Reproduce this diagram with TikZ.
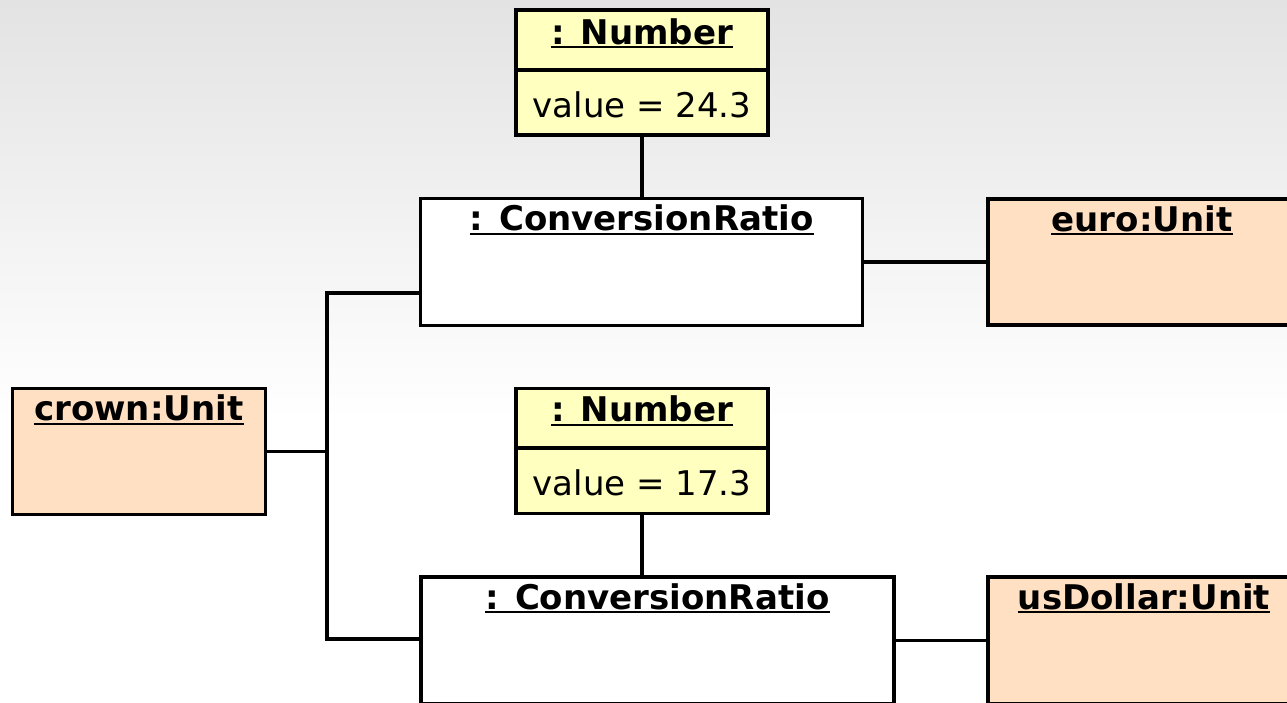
\documentclass[tikz,border=0pt]{standalone}
\usepackage{fontspec}
\setmainfont{DejaVu Sans}
\definecolor{bgtop}{RGB}{227,227,227}
\definecolor{numfill}{RGB}{255,255,192}
\definecolor{unitfill}{RGB}{255,224,194}
\tikzset{
  obj/.style={draw=black, line width=3.3pt, inner sep=0pt, rectangle},
  numbox/.style={obj, fill=numfill, minimum width=252pt, minimum height=125pt},
  crbox/.style={obj, fill=white, minimum height=127pt},
  unitbox/.style={obj, fill=unitfill, minimum height=126pt},
  ttl/.style={inner sep=0pt, anchor=base, font=\fontsize{34}{40}\selectfont\bfseries},
  val/.style={inner sep=0pt, anchor=base, font=\fontsize{34}{40}\selectfont},
  ul/.style={line width=2.2pt},
  conn/.style={line width=3.3pt}
}
\newcommand{\ulttl}[1]{\draw[ul] ([yshift=-3pt]#1.base west) -- ([yshift=-3pt]#1.base east);}
\begin{document}
\begin{tikzpicture}[x=1pt,y=-1pt]
\useasboundingbox (0,0) rectangle (1287,702);
\clip (0,0) rectangle (1287,702);
\shade[top color=bgtop, bottom color=white] (0,0) rectangle (1287,420);
\fill[white] (0,419) rectangle (1287,702);

% nodes
\node[numbox] (num1) at (642,72.5) {};
\node[crbox, minimum width=442pt] (cr1) at (641.7,262) {};
\node[unitbox, minimum width=308pt] (euro) at (1142,262) {};
\node[unitbox, minimum width=253pt] (crown) at (138.7,451.5) {};
\node[numbox] (num2) at (642,451) {};
\node[crbox, minimum width=473pt] (cr2) at (657.5,640.5) {};
\node[unitbox, minimum width=312pt, minimum height=127pt] (usd) at (1144,640.5) {};

% dividers
\coordinate (d1) at (0,70);
\coordinate (d2) at (0,448);
\draw[conn] (num1.west |- d1) -- (num1.east |- d1);
\draw[conn] (num2.west |- d2) -- (num2.east |- d2);

% titles
\node[ttl] (num1t) at ([yshift=-36pt]num1.north) {: Number};
\node[val] (num1v) at ([yshift=-109pt]num1.north) {value = 24.3};
\node[ttl] (cr1t) at ([yshift=-34pt]cr1.north) {: ConversionRatio};
\node[ttl] (eurot) at ([yshift=-34pt]euro.north) {euro:Unit};
\node[ttl] (crownt) at ([yshift=-34pt]crown.north) {crown:Unit};
\node[ttl] (num2t) at ([yshift=-35pt]num2.north) {: Number};
\node[val] (num2v) at ([yshift=-109pt]num2.north) {value = 17.3};
\node[ttl] (cr2t) at ([yshift=-34pt]cr2.north) {: ConversionRatio};
\node[ttl] (usdt) at ([yshift=-34pt]usd.north) {usDollar:Unit};
\ulttl{num1t}
\ulttl{cr1t}
\ulttl{eurot}
\ulttl{crownt}
\ulttl{num2t}
\ulttl{cr2t}
\ulttl{usdt}

% connectors
\coordinate (j1) at (327,293);
\coordinate (j2) at (327,639);
\draw[conn] (num1.south) -- (num1.south |- cr1.north);
\draw[conn] (num2.south) -- (num2.south |- cr2.north);
\draw[conn] (cr1.east) -- (euro.west);
\draw[conn] (cr2.east) -- (usd.west);
\draw[conn] (cr1.west |- j1) -- (j1) -- (j2) -- (cr2.west |- j2);
\draw[conn] (crown.east) -- (crown.east -| j1);
\end{tikzpicture}
\end{document}
